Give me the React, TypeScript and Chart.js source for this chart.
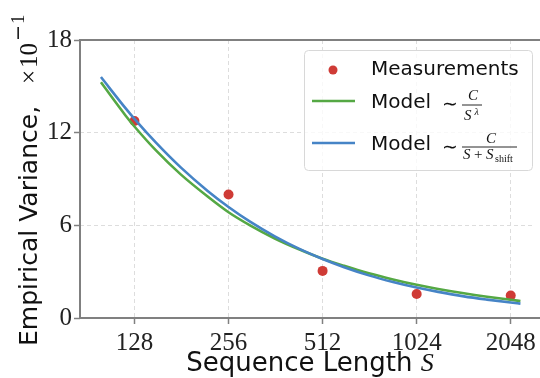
import { useEffect, useRef } from "react";
import { Chart, registerables } from "chart.js";

Chart.register(...registerables);

// ---- data ----
const xTickValues = [128, 256, 512, 1024, 2048];
const yTickValues = [0, 6, 12, 18];
const measuredS = [128, 256, 512, 1024, 2048];
const measuredVariance = [12.75, 8.0, 3.05, 1.55, 1.45];
const curveS = [100, 120, 128, 150, 180, 220, 256, 300, 360, 430, 512, 600, 720, 860, 1024, 1200, 1450, 1720, 2048, 2200];
const powerLawModel = [15.26, 13.1, 12.4, 10.85, 9.3, 7.85, 6.85, 6.0, 5.15, 4.45, 3.84, 3.38, 2.9, 2.5, 2.15, 1.88, 1.6, 1.38, 1.18, 1.1];
const shiftModel = [15.6, 13.57, 12.89, 11.35, 9.75, 8.21, 7.19, 6.24, 5.29, 4.49, 3.82, 3.29, 2.76, 2.33, 1.97, 1.69, 1.4, 1.19, 1.0, 0.93];

const RED = "#cf3b36";
const GREEN = "#55a844";
const BLUE = "#4684c6";
const SPINE = "#808080";

const SANS = '"DejaVu Sans", sans-serif';
const SERIF = '"Liberation Serif", serif';

const decorPlugin = {
  id: "decor",
  afterDatasetsDraw(chart: any) {
    const ctx = chart.ctx as CanvasRenderingContext2D;
    const a = chart.chartArea;
    const w = chart.width;
    ctx.save();
    ctx.strokeStyle = SPINE;
    ctx.lineWidth = 2;
    ctx.beginPath();
    ctx.moveTo(a.left, a.top);
    ctx.lineTo(w, a.top);
    ctx.moveTo(a.left, a.top - 1);
    ctx.lineTo(a.left, a.bottom + 1);
    ctx.moveTo(a.left - 1, a.bottom);
    ctx.lineTo(w, a.bottom);
    ctx.stroke();
    ctx.restore();
  },
  afterDraw(chart: any) {
    const ctx = chart.ctx as CanvasRenderingContext2D;
    ctx.save();
    ctx.fillStyle = "#111";
    ctx.textBaseline = "alphabetic";
    ctx.textAlign = "left";

    // ---- legend ----
    const bx = 304.5, by = 50.5, bw = 228, bh = 120, r = 4;
    ctx.beginPath();
    ctx.moveTo(bx + r, by);
    ctx.arcTo(bx + bw, by, bx + bw, by + bh, r);
    ctx.arcTo(bx + bw, by + bh, bx, by + bh, r);
    ctx.arcTo(bx, by + bh, bx, by, r);
    ctx.arcTo(bx, by, bx + bw, by, r);
    ctx.closePath();
    ctx.fillStyle = "rgba(255,255,255,0.8)";
    ctx.fill();
    ctx.strokeStyle = "#d8d8d8";
    ctx.lineWidth = 1;
    ctx.stroke();

    ctx.fillStyle = RED;
    ctx.beginPath();
    ctx.arc(333, 70, 4.5, 0, Math.PI * 2);
    ctx.fill();

    ctx.lineWidth = 2.5;
    ctx.strokeStyle = GREEN;
    ctx.beginPath();
    ctx.moveTo(312, 101);
    ctx.lineTo(355, 101);
    ctx.stroke();
    ctx.strokeStyle = BLUE;
    ctx.beginPath();
    ctx.moveTo(312, 143);
    ctx.lineTo(355, 143);
    ctx.stroke();

    ctx.fillStyle = "#111";
    ctx.font = `20px ${SANS}`;
    ctx.fillText("Measurements", 371, 75);
    ctx.fillText("Model", 371, 108);
    ctx.fillText("Model", 371, 150);
    ctx.font = `19px ${SANS}`;
    ctx.fillText("\u223C", 442, 109.5);
    ctx.fillText("\u223C", 442, 153);

    ctx.lineWidth = 0.9;
    ctx.strokeStyle = "#111";
    ctx.beginPath();
    ctx.moveTo(462, 105);
    ctx.lineTo(482, 105);
    ctx.stroke();
    ctx.font = `italic 15px ${SERIF}`;
    ctx.textAlign = "center";
    ctx.fillText("C", 473, 100);
    ctx.textAlign = "left";
    ctx.fillText("S", 464, 120);
    ctx.font = `italic 10px ${SERIF}`;
    ctx.fillText("\u03BB", 474.5, 115);

    ctx.beginPath();
    ctx.moveTo(462, 147);
    ctx.lineTo(517, 147);
    ctx.stroke();
    ctx.font = `italic 15px ${SERIF}`;
    ctx.textAlign = "center";
    ctx.fillText("C", 491, 143);
    ctx.textAlign = "left";
    ctx.fillText("S", 463, 159);
    ctx.font = `15px ${SERIF}`;
    ctx.fillText("+", 474, 159);
    ctx.font = `italic 15px ${SERIF}`;
    ctx.fillText("S", 486, 159);
    ctx.font = `10px ${SERIF}`;
    ctx.fillText("shift", 495, 162);

    // ---- x title ----
    ctx.fillStyle = "#111";
    ctx.font = `26px ${SANS}`;
    const part1 = "Sequence Length ";
    const w1 = ctx.measureText(part1).width;
    ctx.font = `italic 26px ${SERIF}`;
    const w2 = ctx.measureText("S").width;
    const cx = (80 + 540) / 2;
    const sx = cx - (w1 + w2) / 2;
    ctx.font = `26px ${SANS}`;
    ctx.fillText(part1, sx, 371);
    ctx.font = `italic 26px ${SERIF}`;
    ctx.fillText("S", sx + w1, 371);

    // ---- y title ----
    ctx.save();
    ctx.translate(37, 346);
    ctx.rotate(-Math.PI / 2);
    ctx.font = `25px ${SANS}`;
    ctx.fillText("Empirical Variance,", 0, 0);
    ctx.font = `25px ${SERIF}`;
    ctx.fillText("\u00D7", 262, 0);
    ctx.fillText("10", 278, 0);
    ctx.font = `19px ${SANS}`;
    ctx.fillText("\u2212", 305, -13);
    ctx.font = `19px ${SERIF}`;
    ctx.fillText("1", 322, -13);
    ctx.restore();

    ctx.restore();
  },
};

export default function App() {
  const ref = useRef<HTMLCanvasElement | null>(null);

  useEffect(() => {
    if (!ref.current) return;
    const chart = new Chart(ref.current, {
      type: "line",
      data: {
        datasets: [
          {
            type: "line",
            label: "Model ~ C/(S+S_shift)",
            data: curveS.map((s, i) => ({ x: s, y: shiftModel[i] })),
            borderColor: BLUE,
            borderWidth: 2.6,
            pointRadius: 0,
            cubicInterpolationMode: "monotone",
            order: 0,
          },
          {
            type: "line",
            label: "Model ~ C/S^λ",
            data: curveS.map((s, i) => ({ x: s, y: powerLawModel[i] })),
            borderColor: GREEN,
            borderWidth: 2.6,
            pointRadius: 0,
            cubicInterpolationMode: "monotone",
            order: 1,
          },
          {
            type: "scatter",
            label: "Measurements",
            data: measuredS.map((s, i) => ({ x: s, y: measuredVariance[i] })),
            backgroundColor: RED,
            borderWidth: 0,
            pointRadius: 5,
            showLine: false,
            order: 2,
          } as any,
        ],
      },
      options: {
        responsive: false,
        animation: false,
        devicePixelRatio: 1,
        layout: { padding: { top: 40, right: 0, bottom: 0, left: 0 } },
        plugins: { legend: { display: false }, tooltip: { enabled: false } },
        scales: {
          x: {
            type: "logarithmic",
            min: 85.7,
            max: 2444,
            afterBuildTicks: (scale: any) => {
              scale.ticks = xTickValues.map((v) => ({ value: v }));
            },
            afterFit: (scale: any) => {
              scale.height = 60;
            },
            ticks: {
              autoSkip: false,
              maxRotation: 0,
              padding: 4,
              color: "#222",
              font: { family: "Liberation Serif", size: 25 },
              callback: (v: any) => String(v),
            },
            grid: {
              color: "#dddddd",
              lineWidth: 1,
              tickLength: 6,
              tickColor: SPINE,
              tickWidth: 1.5,
            },
            border: { display: false, dash: [4, 3] },
          },
          y: {
            type: "linear",
            min: 0,
            max: 18,
            afterBuildTicks: (scale: any) => {
              scale.ticks = yTickValues.map((v) => ({ value: v }));
            },
            afterFit: (scale: any) => {
              scale.width = 80;
            },
            ticks: {
              padding: 2,
              color: "#222",
              font: { family: "Liberation Serif", size: 25 },
              callback: (v: any) => String(v),
            },
            grid: {
              color: "#dddddd",
              lineWidth: 1,
              tickLength: 6,
              tickColor: SPINE,
              tickWidth: 1.5,
            },
            border: { display: false, dash: [4, 3] },
          },
        },
      },
      plugins: [decorPlugin],
    } as any);
    return () => chart.destroy();
  }, []);

  return (
    <div style={{ position: "fixed", left: 0, top: 0, width: 540, height: 378, background: "#fff" }}>
      <canvas ref={ref} width={540} height={378} style={{ display: "block" }} />
    </div>
  );
}
